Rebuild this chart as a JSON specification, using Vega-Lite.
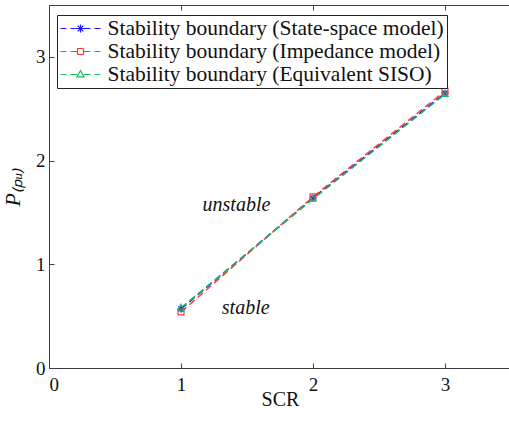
{
  "$schema": "https://vega.github.io/schema/vega-lite/v6.json",
  "width": 462,
  "height": 363,
  "autosize": {"type": "none"},
  "padding": {"left": 49, "top": 5, "right": 0, "bottom": 53},
  "background": "white",
  "config": {
    "font": "Liberation Serif, Times New Roman, serif",
    "view": {"stroke": "#404040", "strokeWidth": 1},
    "axis": {
      "domainColor": "#404040",
      "tickColor": "#404040",
      "tickSize": -5,
      "grid": false,
      "labelFont": "Liberation Serif, Times New Roman, serif",
      "labelFontSize": 19,
      "labelColor": "#111",
      "titleFont": "Liberation Serif, Times New Roman, serif",
      "titleFontSize": 20,
      "titleFontWeight": "normal",
      "titleColor": "#111"
    },
    "legend": {
      "labelFont": "Liberation Serif, Times New Roman, serif",
      "labelFontSize": 21.5,
      "labelColor": "#111"
    }
  },
  "data": {
    "values": [
      {"scr": 1, "p": 0.57, "series": "Stability boundary (State-space model)"},
      {"scr": 2, "p": 1.64, "series": "Stability boundary (State-space model)"},
      {"scr": 3, "p": 2.65, "series": "Stability boundary (State-space model)"},
      {"scr": 1, "p": 0.54, "series": "Stability boundary (Impedance model)"},
      {"scr": 2, "p": 1.65, "series": "Stability boundary (Impedance model)"},
      {"scr": 3, "p": 2.67, "series": "Stability boundary (Impedance model)"},
      {"scr": 1, "p": 0.58, "series": "Stability boundary (Equivalent SISO)"},
      {"scr": 2, "p": 1.63, "series": "Stability boundary (Equivalent SISO)"},
      {"scr": 3, "p": 2.64, "series": "Stability boundary (Equivalent SISO)"}
    ]
  },
  "resolve": {"axis": {"x": "independent"}},
  "layer": [
    {
      "mark": {"type": "line", "strokeDash": [7, 4], "strokeWidth": 1.5},
      "encoding": {
        "x": {
          "field": "scr", "type": "quantitative",
          "scale": {"domain": [0, 3.5], "nice": false, "zero": false},
          "axis": {"values": [0, 1, 2, 3], "format": "d", "title": "SCR", "labelPadding": 12, "titlePadding": -5}
        },
        "y": {
          "field": "p", "type": "quantitative",
          "scale": {"domain": [0, 3.5], "nice": false},
          "axis": {"values": [0, 1, 2, 3], "format": "d", "title": "P₍ₚᵤ₎", "titleFontStyle": "italic", "titleFontSize": 22, "labelPadding": 9, "titlePadding": 11}
        },
        "color": {
          "field": "series", "type": "nominal",
          "sort": ["Stability boundary (State-space model)", "Stability boundary (Impedance model)", "Stability boundary (Equivalent SISO)"],
          "scale": {"range": ["#1a1aff", "#ff3b3b", "#1fb85a"]},
          "legend": {
            "title": null,
            "orient": "none",
            "legendX": 8,
            "legendY": 10,
            "fillColor": "white",
            "strokeColor": "#222",
            "padding": 2.5,
            "cornerRadius": 0,
            "labelFont": "Liberation Serif, Times New Roman, serif",
            "labelFontSize": 21.5,
            "labelColor": "#111",
            "labelLimit": 500,
            "labelOffset": 26,
            "rowPadding": 1,
            "symbolSize": 400,
            "symbolStrokeWidth": 1.2,
            "encode": {
              "symbols": {
                "update": {
                  "shape": {"signal": "datum.index === 0 ? 'M-1,0H-0.4M0,0H0.6M1.4,0H2M2.4,0H3M0.6,0H1.4M1,-0.4V0.4M0.72,-0.28L1.28,0.28M0.72,0.28L1.28,-0.28' : datum.index === 1 ? 'M-1,0H-0.4M0,0H0.7M1.3,0H2M2.4,0H3M0.7,-0.3H1.3V0.3H0.7Z' : 'M-1,0H-0.4M0,0H0.66M1.34,0H2M2.4,0H3M1,-0.38L1.36,0.24L0.64,0.24Z'"},
                  "fill": {"value": "transparent"},
                  "strokeDash": {"value": [1, 0]}
                }
              }
            }
          }
        }
      }
    },
    {
      "mark": {"type": "point", "filled": false, "strokeWidth": 1.2, "opacity": 1},
      "encoding": {
        "x": {"field": "scr", "type": "quantitative", "scale": {"domain": [0, 3.5], "nice": false, "zero": false},
          "axis": {"orient": "top", "values": [0, 1, 2, 3], "labels": false, "title": null, "domain": false}},
        "y": {"field": "p", "type": "quantitative"},
        "color": {"field": "series", "type": "nominal", "legend": null,
          "sort": ["Stability boundary (State-space model)", "Stability boundary (Impedance model)", "Stability boundary (Equivalent SISO)"]},
        "shape": {
          "field": "series", "type": "nominal", "legend": null,
          "sort": ["Stability boundary (State-space model)", "Stability boundary (Impedance model)", "Stability boundary (Equivalent SISO)"],
          "scale": {"range": [
            "M-1,0H1M0,-1V1M-0.75,-0.75L0.75,0.75M-0.75,0.75L0.75,-0.75",
            "M-0.85,-0.85H0.85V0.85H-0.85Z",
            "M0,-1L0.9,0.65L-0.9,0.65Z"
          ]}
        },
        "size": {"value": 49}
      }
    },
    {
      "data": {"values": [
        {"scr": 1.42, "p": 1.57, "label": "unstable"},
        {"scr": 1.49, "p": 0.58, "label": "stable"}
      ]},
      "mark": {"type": "text", "font": "Liberation Serif, Times New Roman, serif", "fontSize": 20, "fontStyle": "italic", "color": "#111"},
      "encoding": {
        "x": {"field": "scr", "type": "quantitative", "axis": null},
        "y": {"field": "p", "type": "quantitative"},
        "text": {"field": "label"}
      }
    }
  ]
}
